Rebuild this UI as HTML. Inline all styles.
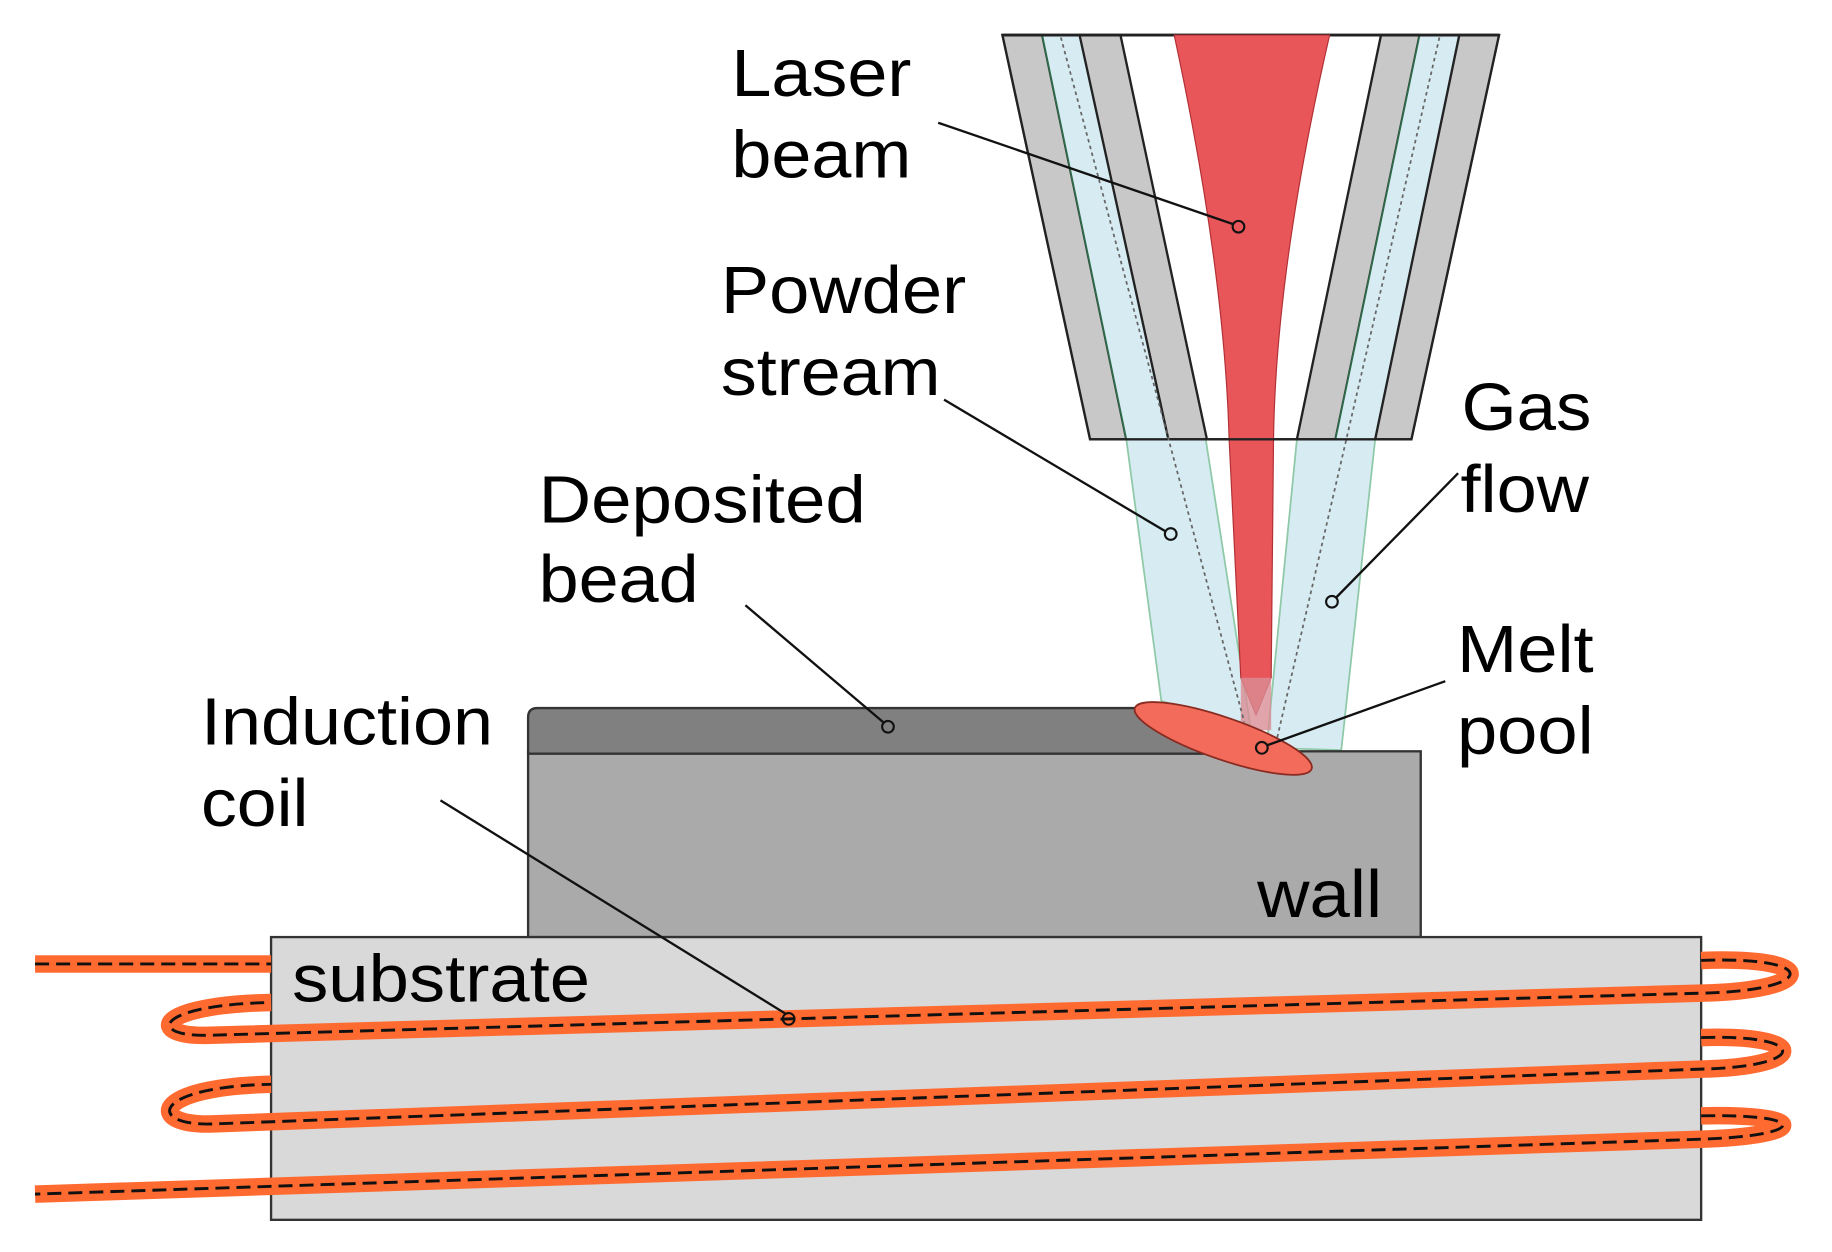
<!DOCTYPE html>
<html><head><meta charset="utf-8"><style>
html,body{margin:0;padding:0;background:#fff;}
svg{display:block;}
text{font-family:"Liberation Sans",Arial,sans-serif;font-size:57px;fill:#000;}
</style></head><body>
<svg width="1832" height="1252" viewBox="0 0 1568 1071.5" xmlns="http://www.w3.org/2000/svg">
<!-- streams below nozzle -->
<polygon points="964,376 1032,376 1070,620 994,600" fill="#d7ebf2" stroke="#8fc9a8" stroke-width="1.5"/>
<polygon points="1110,376 1177,376 1148,642 1084,640" fill="#d7ebf2" stroke="#8fc9a8" stroke-width="1.5"/>
<!-- nozzle -->
<polygon points="858,30 1283,30 1208,376 933,376" fill="#fff" stroke="#222" stroke-width="2"/>
<polygon points="858,30 892,30 964,376 933,376" fill="#c8c8c8" stroke="#222" stroke-width="2"/>
<polygon points="892,30 924,30 1000,376 964,376" fill="#d7ebf2" stroke="#2f6b4a" stroke-width="1.5"/>
<polygon points="924,30 959,30 1033,376 1000,376" fill="#c8c8c8" stroke="#222" stroke-width="2"/>
<polygon points="1182,30 1215,30 1143,376 1110,376" fill="#c8c8c8" stroke="#222" stroke-width="2"/>
<polygon points="1215,30 1249,30 1177,376 1143,376" fill="#d7ebf2" stroke="#2f6b4a" stroke-width="1.5"/>
<polygon points="1249,30 1283,30 1208,376 1177,376" fill="#c8c8c8" stroke="#222" stroke-width="2"/>
<line x1="858" y1="30" x2="1283" y2="30" stroke="#222" stroke-width="2.5"/>
<!-- laser -->
<path d="M1005,30 L1138,30 Q1092,230 1090,376 L1088,580 L1075,612 L1062,580 L1052,376 Q1048,230 1005,30 Z" fill="#e8565a" stroke="#b03035" stroke-width="1"/>
<line x1="933" y1="376" x2="1208" y2="376" stroke="#222" stroke-width="2"/>
<polygon points="1062,580 1088,580 1088,625 1062,625" fill="#d98d95" opacity="0.8"/>
<!-- dotted center lines -->
<line x1="908" y1="32" x2="1065" y2="618" stroke="#666" stroke-width="1.5" stroke-dasharray="3,3"/>
<line x1="1232" y1="32" x2="1093" y2="632" stroke="#666" stroke-width="1.5" stroke-dasharray="3,3"/>
<!-- wall -->
<rect x="452" y="643" width="764" height="159" fill="#aaaaaa" stroke="#333" stroke-width="2"/>
<path d="M460,606 L1010,606 L1030,645 L452,645 L452,614 Q452,606 460,606 Z" fill="#808080" stroke="#333" stroke-width="2"/>
<ellipse cx="1047" cy="632" rx="80" ry="18" transform="rotate(19 1047 632)" fill="#f26b5b" stroke="#8a2a20" stroke-width="1.5"/>
<!-- substrate -->
<rect x="232" y="802" width="1224" height="242" fill="#d9d9d9" stroke="#333" stroke-width="2"/>
<!-- coil -->
<g fill="none" stroke-linecap="butt">
<g stroke="#ff6a30" stroke-width="15">
<path d="M30,825 L232,825"/>
<path d="M1456,822 C1560,818 1555,848 1456,850 L180,886 C125,888 130,860 232,858"/>
<path d="M1456,888 C1550,885 1548,913 1456,915 L180,962 C125,963 130,930 232,928"/>
<path d="M1456,955 C1550,953 1548,972 1456,975 L30,1022"/>
</g>
<g stroke="#111" stroke-width="2.5" stroke-dasharray="12,6">
<path d="M30,825 L232,825"/>
<path d="M1456,822 C1560,818 1555,848 1456,850 L180,886 C125,888 130,860 232,858"/>
<path d="M1456,888 C1550,885 1548,913 1456,915 L180,962 C125,963 130,930 232,928"/>
<path d="M1456,955 C1550,953 1548,972 1456,975 L30,1022"/>
</g>
</g>
<!-- leaders -->
<g stroke="#111" stroke-width="2" fill="none">
<line x1="803" y1="105" x2="1056" y2="192"/>
<line x1="808" y1="342" x2="998" y2="455"/>
<line x1="1248" y1="405" x2="1143" y2="512"/>
<line x1="638" y1="518" x2="757" y2="619"/>
<line x1="1237" y1="583" x2="1084" y2="638"/>
<line x1="377" y1="685" x2="673" y2="868"/>
</g>
<g stroke="#111" stroke-width="1.8" fill="none">
<circle cx="1060" cy="194" r="5"/>
<circle cx="1002" cy="457" r="5"/>
<circle cx="1140" cy="515" r="5"/>
<circle cx="760" cy="622" r="5"/>
<circle cx="1080" cy="640" r="5"/>
<circle cx="675" cy="872" r="5"/>
</g>
<!-- labels -->
<text x="626" y="82" textLength="154" lengthAdjust="spacingAndGlyphs">Laser</text>
<text x="626" y="152" textLength="154" lengthAdjust="spacingAndGlyphs">beam</text>
<text x="617" y="268" textLength="210" lengthAdjust="spacingAndGlyphs">Powder</text>
<text x="617" y="338" textLength="188" lengthAdjust="spacingAndGlyphs">stream</text>
<text x="1251" y="368" textLength="111" lengthAdjust="spacingAndGlyphs">Gas</text>
<text x="1250" y="438" textLength="110" lengthAdjust="spacingAndGlyphs">flow</text>
<text x="461" y="447" textLength="280" lengthAdjust="spacingAndGlyphs">Deposited</text>
<text x="461" y="515" textLength="137" lengthAdjust="spacingAndGlyphs">bead</text>
<text x="1247" y="575" textLength="117" lengthAdjust="spacingAndGlyphs">Melt</text>
<text x="1247" y="645" textLength="117" lengthAdjust="spacingAndGlyphs">pool</text>
<text x="172" y="637" textLength="250" lengthAdjust="spacingAndGlyphs">Induction</text>
<text x="172" y="707" textLength="92" lengthAdjust="spacingAndGlyphs">coil</text>
<text x="1076" y="785" textLength="107" lengthAdjust="spacingAndGlyphs">wall</text>
<text x="250" y="857" textLength="255" lengthAdjust="spacingAndGlyphs">substrate</text>
</svg>
</body></html>
